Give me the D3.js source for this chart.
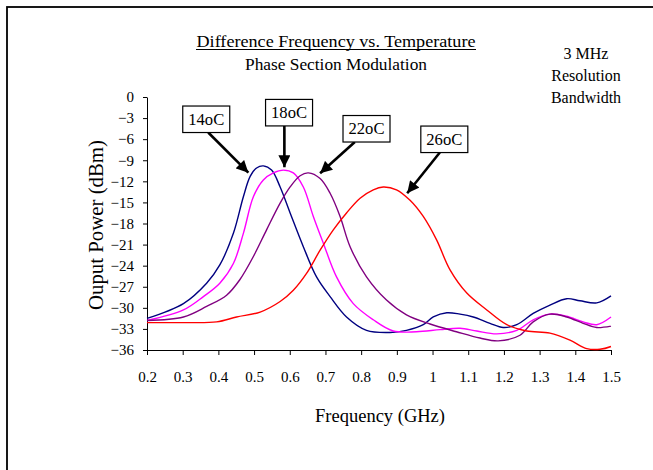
<!DOCTYPE html>
<html>
<head>
<meta charset="utf-8">
<script src="https://cdn.jsdelivr.net/npm/d3@7"></script>
<style>
  body { margin: 0; background: #fff; }
  svg { display: block; font-family: "Liberation Serif", "Times New Roman", serif; }
  .axis path, .axis line { stroke: #000; stroke-width: 1; }
  .axis text { fill: #000; }
</style>
</head>
<body>
<svg id="chart" width="653" height="470"></svg>
<script>
// data (GHz, dBm)
const freq14 = [0.2, 0.302, 0.367, 0.404, 0.442, 0.470, 0.489, 0.507, 0.526, 0.549, 0.573, 0.601, 0.638, 0.675, 0.713, 0.759, 0.815, 0.881, 0.927, 0.974, 1.002, 1.040, 1.077, 1.114, 1.161, 1.198, 1.236, 1.282, 1.329, 1.376, 1.413, 1.460, 1.5];
const power14 = [-31.5, -29.4, -26.5, -23.9, -19.4, -14.2, -11.3, -10.1, -9.8, -10.4, -12.8, -16.5, -21.3, -25.6, -28.4, -31.3, -33.2, -33.5, -33.2, -32.4, -31.3, -30.7, -30.9, -31.3, -32.2, -32.8, -32.4, -30.8, -29.6, -28.7, -29.0, -29.3, -28.3];

const freq18 = [0.2, 0.302, 0.358, 0.404, 0.442, 0.470, 0.498, 0.526, 0.554, 0.582, 0.610, 0.638, 0.666, 0.694, 0.731, 0.778, 0.834, 0.890, 0.955, 1.021, 1.077, 1.124, 1.180, 1.236, 1.282, 1.329, 1.376, 1.422, 1.460, 1.5];
const power18 = [-31.8, -30.3, -28.4, -26.5, -23.7, -19.4, -14.2, -11.8, -10.8, -10.4, -10.8, -12.8, -17.0, -20.8, -25.6, -29.4, -31.7, -33.3, -33.4, -33.1, -32.9, -33.3, -33.7, -33.2, -31.7, -30.9, -31.2, -32.0, -32.4, -31.3];

const freq22 = [0.2, 0.302, 0.367, 0.423, 0.460, 0.498, 0.535, 0.573, 0.601, 0.629, 0.652, 0.685, 0.713, 0.741, 0.769, 0.815, 0.871, 0.927, 0.993, 1.067, 1.133, 1.184, 1.245, 1.282, 1.329, 1.376, 1.422, 1.460, 1.5];
const power22 = [-31.8, -31.3, -29.8, -28.2, -26.0, -22.7, -18.9, -15.1, -12.8, -11.2, -10.8, -11.6, -13.7, -17.0, -21.3, -25.6, -28.9, -31.0, -32.3, -33.4, -34.3, -34.7, -33.9, -32.0, -30.9, -31.3, -32.2, -32.8, -32.6];

const freq26 = [0.2, 0.302, 0.395, 0.451, 0.517, 0.573, 0.610, 0.647, 0.685, 0.722, 0.759, 0.797, 0.834, 0.862, 0.899, 0.937, 0.974, 1.011, 1.049, 1.096, 1.152, 1.208, 1.264, 1.329, 1.385, 1.432, 1.469, 1.5];
const power26 = [-32.1, -32.1, -32.0, -31.3, -30.6, -29.1, -27.5, -25.1, -21.8, -18.9, -16.5, -14.4, -13.2, -12.8, -13.2, -14.7, -17.0, -20.3, -24.6, -27.9, -30.3, -32.4, -33.3, -33.6, -34.6, -35.8, -35.9, -35.5];

const seriesNames = ["14oC", "18oC", "22oC", "26oC"];
const seriesColors = ["#000080", "#ff00ff", "#800080", "#ff0000"];
const xTicks = [0.2, 0.3, 0.4, 0.5, 0.6, 0.7, 0.8, 0.9, 1, 1.1, 1.2, 1.3, 1.4, 1.5];
const yTicks = [0, -3, -6, -9, -12, -15, -18, -21, -24, -27, -30, -33, -36];

// callout boxes: centre and arrow tip in data units
const boxFreq = [0.366, 0.598, 0.815, 1.033];
const boxPower = [-3.17, -2.23, -4.52, -6.02];
const tipFreq = [0.484, 0.585, 0.685, 0.929];
const tipPower = [-10.77, -10.0, -10.86, -13.70];
const tailDx = [2, -4.7, -11.7, -4.5];

const series = [
  freq14.map((f, i) => ({ f, p: power14[i] })),
  freq18.map((f, i) => ({ f, p: power18[i] })),
  freq22.map((f, i) => ({ f, p: power22[i] })),
  freq26.map((f, i) => ({ f, p: power26[i] }))
];

const svg = d3.select("#chart");

// outer frame (right/bottom edges fall outside the picture)
svg.append("rect")
  .attr("x", 7).attr("y", 7)
  .attr("width", 700).attr("height", 500)
  .attr("fill", "none").attr("stroke", "#000").attr("stroke-width", 1.8);

const x = d3.scaleLinear().domain([0.2, 1.5]).range([147, 611]);
const y = d3.scaleLinear().domain([-36, 0]).range([350, 97]);

svg.append("g")
  .attr("class", "axis")
  .attr("transform", "translate(0,350)")
  .call(d3.axisBottom(x).tickValues(xTicks).tickSize(5).tickPadding(16).tickSizeOuter(0)
    .tickFormat(d => String(d)))
  .call(g => g.selectAll("text").attr("font-size", 15).attr("font-family", "Liberation Serif"));

svg.append("g")
  .attr("class", "axis")
  .attr("transform", "translate(147,0)")
  .call(d3.axisLeft(y).tickValues(yTicks).tickSize(4).tickPadding(9).tickSizeOuter(0))
  .call(g => g.selectAll("text").attr("font-size", 15).attr("font-family", "Liberation Serif"));

const line = d3.line()
  .x(d => x(d.f))
  .y(d => y(d.p))
  .curve(d3.curveCatmullRom.alpha(0.5));

svg.append("g")
  .selectAll("path")
  .data(series)
  .join("path")
  .attr("d", line)
  .attr("fill", "none")
  .attr("stroke", (d, i) => seriesColors[i])
  .attr("stroke-width", 1.4);

// titles
svg.append("text")
  .attr("x", 336).attr("y", 46.5)
  .attr("text-anchor", "middle")
  .attr("font-size", 17)
  .attr("textLength", 279).attr("lengthAdjust", "spacingAndGlyphs")
  .text("Difference Frequency vs. Temperature");
svg.append("line")
  .attr("x1", 196).attr("x2", 476)
  .attr("y1", 49.5).attr("y2", 49.5)
  .attr("stroke", "#000").attr("stroke-width", 1);
svg.append("text")
  .attr("x", 336).attr("y", 69.5)
  .attr("text-anchor", "middle")
  .attr("font-size", 16)
  .attr("textLength", 182).attr("lengthAdjust", "spacingAndGlyphs")
  .text("Phase Section Modulation");

const note = svg.append("text")
  .attr("text-anchor", "middle")
  .attr("font-size", 16);
["3 MHz", "Resolution", "Bandwidth"].forEach((t, i) => {
  note.append("tspan").attr("x", 586).attr("y", 58.5 + i * 22).text(t);
});

svg.append("text")
  .attr("x", 0).attr("y", 0)
  .attr("transform", "translate(103,225) rotate(-90)")
  .attr("text-anchor", "middle")
  .attr("font-size", 20)
  .attr("textLength", 170).attr("lengthAdjust", "spacingAndGlyphs")
  .text("Ouput Power (dBm)");

svg.append("text")
  .attr("x", 380).attr("y", 421.5)
  .attr("text-anchor", "middle")
  .attr("font-size", 19)
  .attr("textLength", 130).attr("lengthAdjust", "spacingAndGlyphs")
  .text("Frequency (GHz)");

// callouts
svg.append("defs").append("marker")
  .attr("id", "arrow")
  .attr("viewBox", "0 0 10 10")
  .attr("refX", 10).attr("refY", 5)
  .attr("markerUnits", "userSpaceOnUse")
  .attr("markerWidth", 13).attr("markerHeight", 12)
  .attr("orient", "auto")
  .append("path")
  .attr("d", "M0,0 L10,5 L0,10 Z")
  .attr("fill", "#000");

const boxW = 47, boxH = 26.5;
seriesNames.forEach((name, i) => {
  const cx = x(boxFreq[i]), cy = y(boxPower[i]);
  svg.append("line")
    .attr("x1", cx + tailDx[i]).attr("y1", cy + boxH / 2)
    .attr("x2", x(tipFreq[i])).attr("y2", y(tipPower[i]))
    .attr("stroke", "#000").attr("stroke-width", 2.6)
    .attr("marker-end", "url(#arrow)");
  svg.append("rect")
    .attr("x", cx - boxW / 2).attr("y", cy - boxH / 2)
    .attr("width", boxW).attr("height", boxH)
    .attr("fill", "#fff").attr("stroke", "#000").attr("stroke-width", 1.2);
  svg.append("text")
    .attr("x", cx).attr("y", cy + 5.5)
    .attr("text-anchor", "middle")
    .attr("font-size", 16)
    .attr("textLength", 36).attr("lengthAdjust", "spacingAndGlyphs")
    .text(name);
});
</script>
</body>
</html>
